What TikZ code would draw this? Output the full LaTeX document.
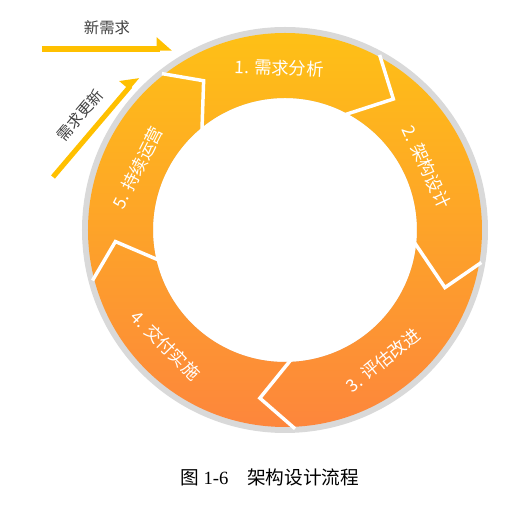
\documentclass[tikz,border=0pt]{standalone}
\usepackage{fontspec}
\setmainfont{Liberation Serif}
\newfontfamily\cjk{Noto Sans CJK SC}
\usetikzlibrary{arrows.meta}
\definecolor{ringtop}{RGB}{254,192,22}
\definecolor{ringbot}{RGB}{253,134,60}
\definecolor{ringgrey}{RGB}{217,217,217}
\definecolor{feedyellow}{RGB}{255,192,0}
\definecolor{notegrey}{RGB}{64,64,64}
\tikzset{
  steplabel/.style={white, font=\cjk\fontsize{13}{14}\selectfont},
  chevron/.style={white, line width=2.6pt},
  feed/.style={feedyellow, line width=3.8pt,
    -{Triangle[harpoon, length=10pt, width=17pt]}},
  note/.style={notegrey, font=\cjk\fontsize{11.5}{12}\selectfont}
}
\begin{document}
\begin{tikzpicture}[x=0.75pt, y=0.75pt]
  \useasboundingbox (-285,-279) rectangle (247,230);
  \fill [ringgrey, even odd rule]
    (0,0) circle [radius=203] (0,0) circle [radius=132];
  \shade [top color=ringtop, bottom color=ringbot, even odd rule]
    (0,0) circle [radius=197] (0,0) circle [radius=132];
  \foreach \i/\t/\o in {130.5/118.6/128.2, 63.4/50.4/61.6,
      -4.4/-19.8/-9.4, -86.6/-98.5/-87.1, 194/183.9/194.7}
    \draw [chevron] (\i:128) -- (\t:170) -- (\o:199);
  \node [steplabel, rotate=-2] (s1) at (92:162) {1. 需求分析};
  \node [steplabel, rotate=-65] (s2) at (24:155) {2. 架构设计};
  \node [steplabel, rotate=39] (s3) at (-53:163) {3. 评估改进};
  \node [steplabel, rotate=-45] (s4) at (224:166) {4. 交付实施};
  \node [steplabel, rotate=63] (s5) at (157:160) {5. 持续运营};
  \coordinate (n1) at (-243,181);
  \coordinate (n2) at (-113,181);
  \coordinate (u1) at (-232,53);
  \coordinate (u2) at (-147,153);
  \draw [feed] (n1) -- (n2);
  \draw [feed] (u1) -- (u2);
  \node [note] (newreq) at (-178,202) {新需求};
  \node [note, rotate=49.6] (update) at (-205,115) {需求更新};
  \node [font=\fontsize{14}{16}\selectfont] (caption) at (-15,-247)
    {\cjk 图 {\rmfamily 1-6}\quad 架构设计流程};
\end{tikzpicture}
\end{document}
